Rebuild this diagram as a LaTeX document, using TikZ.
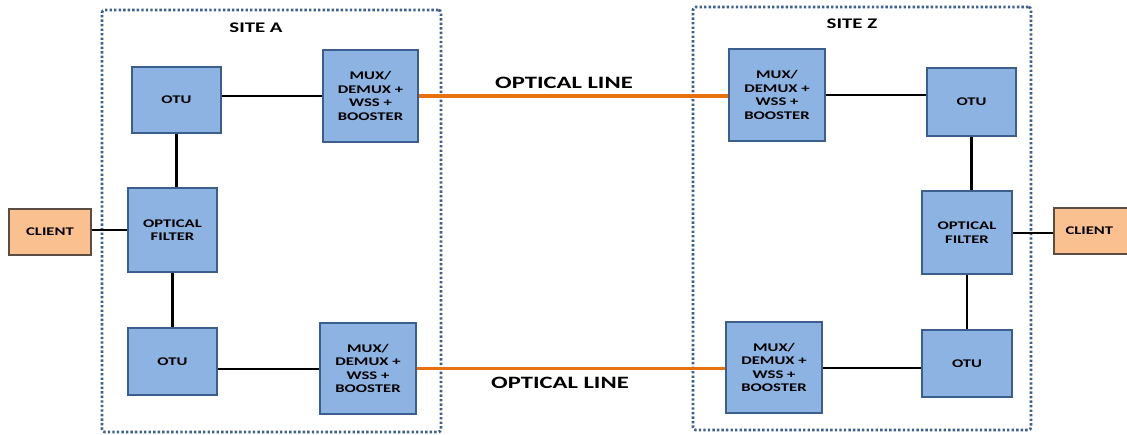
\documentclass[tikz,border=0pt]{standalone}
\usepackage{fontspec}
\newfontfamily\calfont{Carlito}[FakeStretch=1.42]
\definecolor{boxfill}{HTML}{8DB3E2}
\definecolor{boxline}{HTML}{3B5E8C}
\definecolor{clientfill}{HTML}{FAC090}
\definecolor{clientline}{HTML}{5A4E44}
\definecolor{fiber}{HTML}{E8710E}
\definecolor{sitedot}{HTML}{3F5F8F}
\tikzset{
  sz/.style 2 args={minimum width=#1*0.75pt, minimum height=#2*0.75pt},
  box/.style={draw=boxline, fill=boxfill, line width=2.2pt, inner sep=0pt,
    align=center, font=\calfont\bfseries\fontsize{8.8}{10.2}\selectfont},
  clientbox/.style={draw=clientline, fill=clientfill, line width=1.2pt, inner sep=0pt,
    font=\calfont\bfseries\fontsize{8.8}{10}\selectfont},
  sitebox/.style={draw=sitedot, line width=2pt, dash pattern=on 1.8pt off 1.6pt,
    rounded corners=2pt, inner sep=0pt},
  sitelabel/.style={font=\calfont\bfseries\fontsize{11}{13}\selectfont},
  linelabel/.style={font=\calfont\bfseries\fontsize{13}{15}\selectfont},
  wire/.style={draw=black, line width=1.5pt},
  vwire/.style={draw=black, line width=2.2pt},
  fiberline/.style={draw=fiber, line width=2.3pt},
}
\begin{document}
\begin{tikzpicture}[x=0.75pt,y=-0.75pt]
\useasboundingbox (0,0) rectangle (1127,435);
% site boxes
\node[sitebox, sz={339}{422}] (siteA) at (271.5,221) {};
\node[sitebox, sz={338}{423}] (siteZ) at (862,218.5) {};
\node[sitelabel] (labA) at (256,28) {SITE A};
\node[sitelabel] (labZ) at (852,24) {SITE Z};
% site A
\node[box, sz={89}{66}] (otuA1) at (176.5,100) {OTU};
\node[box, sz={95}{92}] (muxA1) at (370.5,96) {MUX/\\DEMUX +\\WSS +\\BOOSTER};
\node[box, sz={89}{84}] (filA) at (172.5,230) {OPTICAL\\FILTER};
\node[box, sz={89}{67}] (otuA2) at (172.5,361.5) {OTU};
\node[box, sz={96}{91}] (muxA2) at (368,368.5) {MUX/\\DEMUX +\\WSS +\\BOOSTER};
\node[clientbox, sz={82}{46}] (cliA) at (50,232) {CLIENT};
% site Z
\node[box, sz={96}{92}] (muxZ1) at (777,95) {MUX/\\DEMUX +\\WSS +\\BOOSTER};
\node[box, sz={89}{68}] (otuZ1) at (971.5,102) {OTU};
\node[box, sz={90}{83}] (filZ) at (967,232.5) {OPTICAL\\FILTER};
\node[box, sz={90}{67}] (otuZ2) at (967,363.5) {OTU};
\node[box, sz={96}{91}] (muxZ2) at (774,367.5) {MUX/\\DEMUX +\\WSS +\\BOOSTER};
\node[clientbox, sz={76}{46}] (cliZ) at (1092,231) {\hspace*{-4pt}CLIENT};
% labels on optical lines
\node[linelabel] (olTop) at (564,83) {OPTICAL LINE};
\node[linelabel] (olBot) at (560,383) {OPTICAL LINE};
% connectors
\draw[wire] (otuA1.east |- muxA1) -- (muxA1.west);
\draw[vwire] (otuA1.south) -- (otuA1.south |- filA.north);
\draw[vwire] (filA.south) -- (filA.south |- otuA2.north);
\draw[wire] (cliA.east |- filA.west) -- (filA.west);
\draw[wire] (otuA2.east |- muxA2) -- (muxA2.west);
\draw[fiberline] (muxA1.east) -- (muxZ1.west |- muxA1.east);
\draw[fiberline] (muxA2.east) -- (muxZ2.west |- muxA2.east);
\draw[wire] (muxZ1.east) -- (otuZ1.west |- muxZ1.east);
\draw[vwire] (otuZ1.south) -- (otuZ1.south |- filZ.north);
\draw[vwire] (filZ.south) -- (filZ.south |- otuZ2.north);
\draw[wire] (filZ.east) -- (cliZ.west |- filZ.east);
\draw[wire] (muxZ2.east) -- (otuZ2.west |- muxZ2.east);
\end{tikzpicture}
\end{document}
